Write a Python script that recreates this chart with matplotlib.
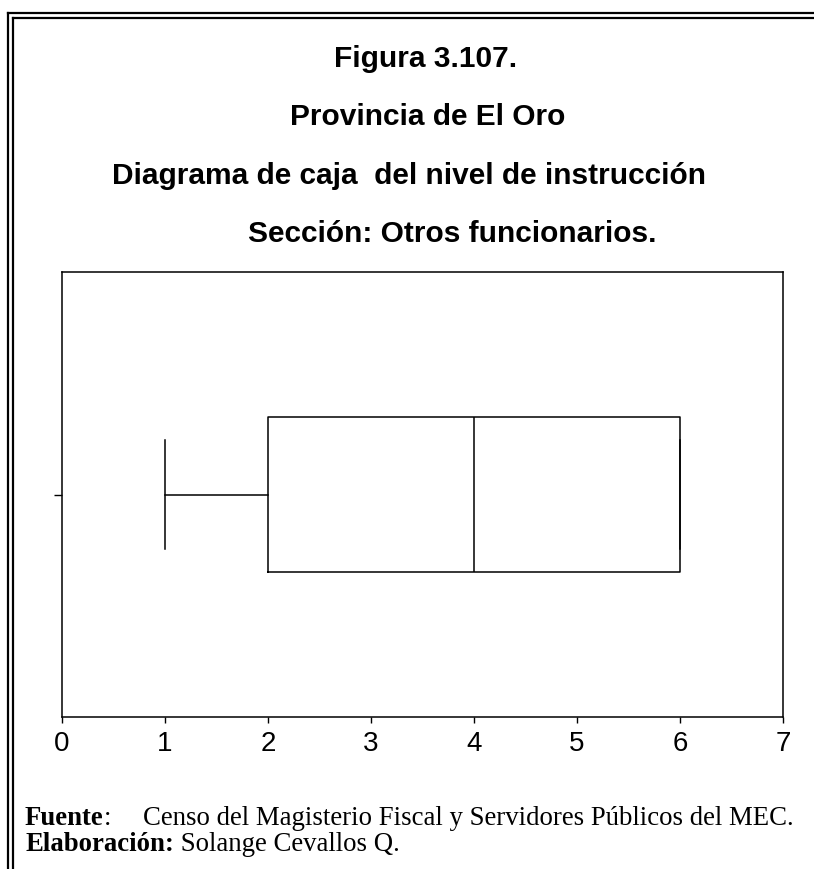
import matplotlib.pyplot as plt
from matplotlib.lines import Line2D

# resumen del diagrama de caja (nivel de instruccion)
minimo = 1
q1 = 2
mediana = 4
q3 = 6
maximo = 6
x_ticks = [0, 1, 2, 3, 4, 5, 6, 7]

titulos = ["Figura 3.107.",
           "Provincia de El Oro",
           "Diagrama de caja  del nivel de instrucción",
           "Sección: Otros funcionarios."]
titulos_x = [426, 428, 409, 452]
titulos_base = [67, 125, 184, 242]

W, H = 814, 869
fig = plt.figure(figsize=(W / 100, H / 100), dpi=100)
ax = fig.add_axes([62 / W, 1 - 717 / H, 721 / W, 445 / H])

stats = [{"whislo": minimo, "q1": q1, "med": mediana, "q3": q3, "whishi": maximo}]
estilo = dict(color="black", linewidth=1.1)
ax.bxp(stats, positions=[1], widths=0.70, capwidths=0.49, vert=False,
       showfliers=False, boxprops=estilo, whiskerprops=estilo,
       capprops=estilo, medianprops=estilo)

ax.set_xlim(0, 7)
ax.set_ylim(0, 2)
ax.set_xticks(x_ticks)
ax.set_xticklabels([str(t) for t in x_ticks], fontsize=20, family="Liberation Sans")
ax.set_yticks([1])
ax.set_yticklabels([""])
ax.tick_params(axis="x", length=4, width=1, pad=6)
ax.tick_params(axis="y", length=6, width=1)
for s in ax.spines.values():
    s.set_linewidth(1.1)

for t, x, y in zip(titulos, titulos_x, titulos_base):
    fig.text(x / W, 1 - y / H, t, ha="center", va="baseline", fontsize=21.5,
             fontweight="bold", family="Liberation Sans")

pie = dict(fontsize=19.3, family="Liberation Serif", va="baseline")
t1 = fig.text(25 / W, 1 - 825 / H, "Fuente", fontweight="bold", **pie)
fig.canvas.draw()
x1 = t1.get_window_extent().x1 / W
fig.text(x1, 1 - 825 / H, ":", **pie)
fig.text(143 / W, 1 - 825 / H, "Censo del Magisterio Fiscal y Servidores Públicos del MEC.", **pie)
t2 = fig.text(25 / W, 1 - 851 / H, "Elaboración:", fontweight="bold", **pie)
fig.canvas.draw()
x2 = t2.get_window_extent().x1 / W
fig.text(x2, 1 - 851 / H, " Solange Cevallos Q.", **pie)

# marco doble
for xo, yo in [(8, 13), (12.5, 18)]:
    fig.add_artist(Line2D([xo / W, xo / W], [0, 1 - yo / H], color="black",
                          linewidth=1.6, transform=fig.transFigure))
    fig.add_artist(Line2D([xo / W, 1], [1 - yo / H, 1 - yo / H], color="black",
                          linewidth=1.6, transform=fig.transFigure))

fig.savefig("out.png", dpi=100)
